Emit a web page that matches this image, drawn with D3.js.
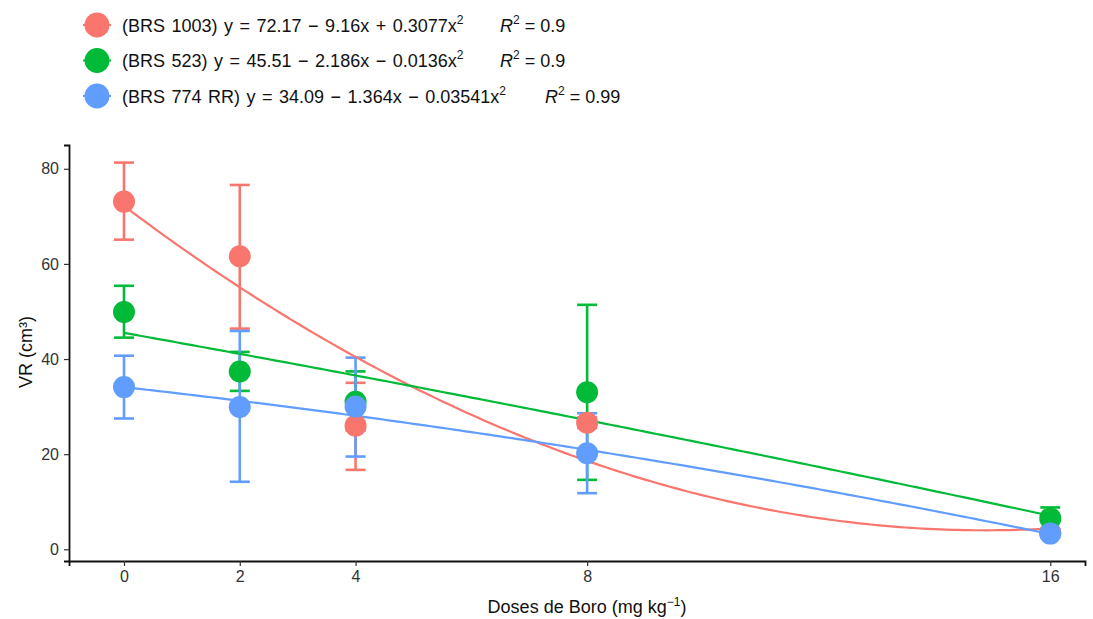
<!DOCTYPE html>
<html>
<head>
<meta charset="utf-8">
<script src="https://cdn.jsdelivr.net/npm/d3@7"></script>
<style>
  body { margin: 0; background: #fff; }
  svg { font-family: "Liberation Sans", Arial, sans-serif; }
</style>
</head>
<body>
<div id="chart"></div>
<script>
// doses (x) and cultivars
var doses = [0, 2, 4, 8, 16];
var cultivars = ["BRS 1003", "BRS 523", "BRS 774 RR"];
var colors = ["#F8766D", "#00BA38", "#619CFF"];

// means, lower and upper error bar values
var mean1003 = [73.1, 61.6, 26.0, 26.6, 3.5];
var low1003  = [65.1, 46.4, 16.7, 25.5, 3.0];
var high1003 = [81.3, 76.6, 35.0, 27.7, 4.0];

var mean523 = [49.9, 37.4, 31.0, 33.0, 6.5];
var low523  = [44.5, 33.3, 25.0, 14.6, 4.3];
var high523 = [55.4, 41.5, 37.4, 51.4, 8.8];

var mean774 = [34.1, 29.9, 30.0, 20.2, 3.3];
var low774  = [27.5, 14.2, 19.5, 11.8, 2.5];
var high774 = [40.7, 45.9, 40.3, 28.6, 4.1];

// fitted quadratic coefficients (a + b x + c x^2) from the legend
var coef1003 = [72.17, -9.16, 0.3077];
var coef523  = [45.51, -2.186, -0.0136];
var coef774  = [34.09, -1.364, -0.03541];
var r2 = ["0.9", "0.9", "0.99"];

var xTicks = [0, 2, 4, 8, 16];
var yTicks = [0, 20, 40, 60, 80];

var width = 1093, height = 619;

var series = [
  {name: cultivars[0], color: colors[0], mean: mean1003, low: low1003, high: high1003, coef: coef1003, r2: r2[0]},
  {name: cultivars[1], color: colors[1], mean: mean523, low: low523, high: high523, coef: coef523, r2: r2[1]},
  {name: cultivars[2], color: colors[2], mean: mean774, low: low774, high: high774, coef: coef774, r2: r2[2]}
];

var svg = d3.select("#chart").append("svg")
  .attr("width", width)
  .attr("height", height);

var x = d3.scaleLinear().domain([-0.95, 16.6]).range([69, 1085]);
var y = d3.scaleLinear().domain([-2.46, 85]).range([561, 145]);

// axes
var xAxis = svg.append("g")
  .attr("transform", "translate(0,561)")
  .call(d3.axisBottom(x).tickValues(xTicks).tickSizeOuter(0).tickSize(5).tickPadding(5));
var yAxis = svg.append("g")
  .attr("transform", "translate(69,0)")
  .call(d3.axisLeft(y).tickValues(yTicks).tickSizeOuter(0).tickSize(5).tickPadding(5));

[xAxis, yAxis].forEach(function(a){
  a.select(".domain").attr("stroke", "#111").attr("stroke-width", 1.8);
  a.selectAll(".tick line").attr("stroke", "#333").attr("stroke-width", 1.2);
  a.selectAll(".tick text").attr("fill", "#333").style("font-size", "16px");
});

svg.append("text")
  .attr("x", 587).attr("y", 613)
  .attr("text-anchor", "middle")
  .style("font-size", "18px")
  .attr("fill", "#111")
  .html('Doses de Boro (mg kg<tspan dy="-7" font-size="12px">\u22121</tspan><tspan dy="7">)</tspan>');

svg.append("text")
  .attr("transform", "translate(32,352) rotate(-90)")
  .attr("text-anchor", "middle")
  .style("font-size", "18px")
  .attr("fill", "#111")
  .text("VR (cm\u00b3)");

// fitted curves
var xs = d3.range(0, 16.01, 0.1);
var line = d3.line()
  .x(function(d){ return x(d[0]); })
  .y(function(d){ return y(d[1]); });

var plot = svg.append("g");

// error bars
series.forEach(function(s){
  var g = plot.append("g").attr("stroke", s.color).attr("stroke-width", 2.6).attr("fill", "none");
  doses.forEach(function(d, i){
    g.append("line")
      .attr("x1", x(d)).attr("x2", x(d))
      .attr("y1", y(s.low[i])).attr("y2", y(s.high[i]));
    [s.low[i], s.high[i]].forEach(function(v){
      g.append("line")
        .attr("x1", x(d) - 10).attr("x2", x(d) + 10)
        .attr("y1", y(v)).attr("y2", y(v));
    });
  });
});

series.forEach(function(s){
  var pts = xs.map(function(v){ return [v, s.coef[0] + s.coef[1] * v + s.coef[2] * v * v]; });
  plot.append("path")
    .datum(pts)
    .attr("d", line)
    .attr("fill", "none")
    .attr("stroke", s.color)
    .attr("stroke-width", 2.2);
});

series.forEach(function(s){
  plot.selectAll(null)
    .data(doses)
    .enter().append("circle")
    .attr("cx", function(d){ return x(d); })
    .attr("cy", function(d, i){ return y(s.mean[i]); })
    .attr("r", 11)
    .attr("fill", s.color);
});

// legend
var legend = svg.append("g");
var legendX = [500, 500, 545];
series.forEach(function(s, i){
  var ly = 25 + i * 35.5;
  legend.append("line")
    .attr("x1", 83).attr("x2", 111)
    .attr("y1", ly).attr("y2", ly)
    .attr("stroke", s.color).attr("stroke-width", 2);
  legend.append("circle")
    .attr("cx", 97).attr("cy", ly).attr("r", 12.5)
    .attr("fill", s.color);
  var c = s.coef;
  var sign = function(v){ return v < 0 ? " \u2212 " : " + "; };
  legend.append("text")
    .attr("x", 122).attr("y", ly + 6.5)
    .style("font-size", "18px")
    .style("word-spacing", "1.5px")
    .attr("fill", "#111")
    .html("(" + s.name + ") y = " + c[0] + sign(c[1]) + Math.abs(c[1]) + "x" + sign(c[2]) + Math.abs(c[2]) +
      'x<tspan dy="-8" font-size="12px">2</tspan>');
  legend.append("text")
    .attr("x", legendX[i]).attr("y", ly + 6.5)
    .style("font-size", "18px")
    .attr("fill", "#111")
    .html('<tspan font-style="italic">R</tspan><tspan dy="-8" font-size="12px">2</tspan><tspan dy="8"> = ' + s.r2 + '</tspan>');
});
</script>
</body>
</html>
